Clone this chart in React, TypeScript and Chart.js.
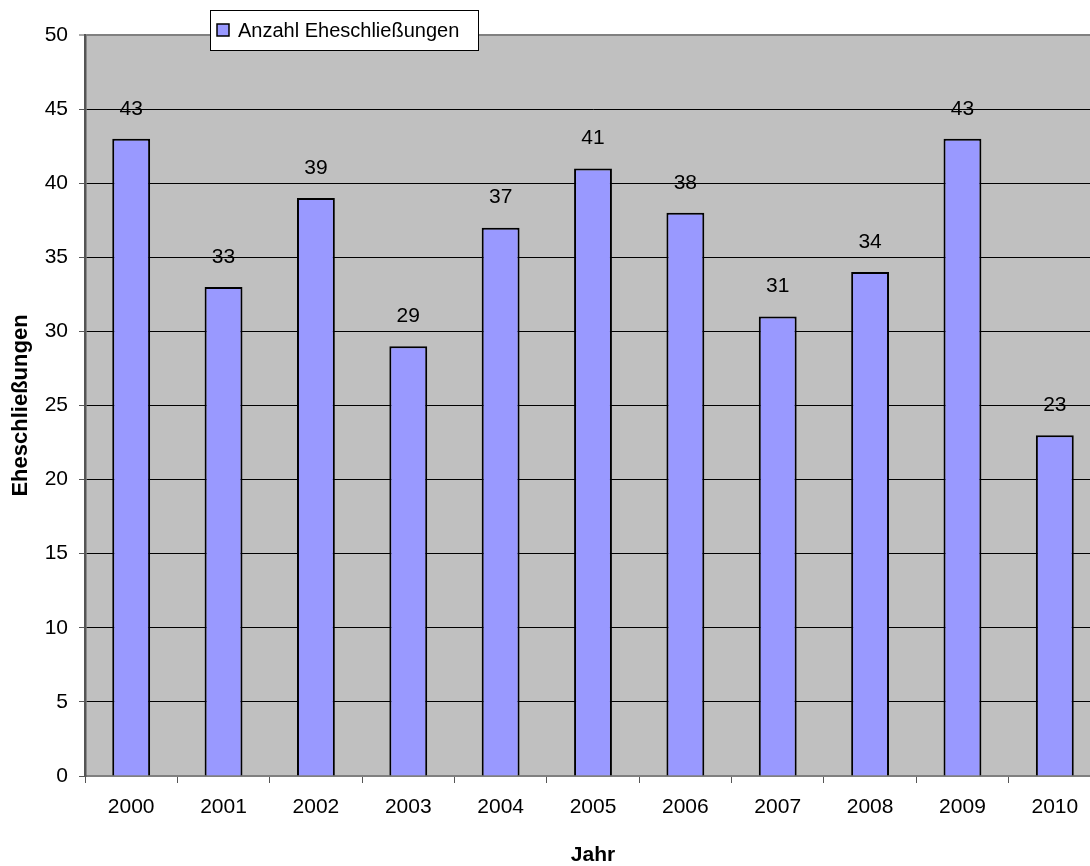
import React, { useEffect, useRef } from "react";
import { Chart, registerables } from "chart.js";

Chart.register(...registerables);

const years = ["2000", "2001", "2002", "2003", "2004", "2005", "2006", "2007", "2008", "2009", "2010"];
const marriages = [43, 33, 39, 29, 37, 41, 38, 31, 34, 43, 23];
const seriesLabel = "Anzahl Eheschließungen";
const yTitle = "Eheschließungen";
const xTitle = "Jahr";

const FONT = "'Liberation Sans', Arial, sans-serif";

const bgPlugin = {
  id: "plotBg",
  beforeDraw(chart: any) {
    const { ctx, chartArea } = chart;
    if (!chartArea) return;
    ctx.save();
    ctx.fillStyle = "#C0C0C0";
    ctx.fillRect(chartArea.left, chartArea.top, chartArea.right - chartArea.left, chartArea.bottom - chartArea.top);
    ctx.restore();
  },
};

const valueLabelPlugin = {
  id: "valueLabels",
  afterDatasetsDraw(chart: any) {
    const { ctx } = chart;
    const meta = chart.getDatasetMeta(0);
    const data = chart.data.datasets[0].data;
    ctx.save();
    ctx.font = `21px ${FONT}`;
    ctx.fillStyle = "#000";
    ctx.textAlign = "center";
    ctx.textBaseline = "middle";
    meta.data.forEach((bar: any, i: number) => {
      ctx.fillText(String(data[i]), bar.x, bar.y - 30);
    });
    ctx.restore();
  },
};

const legendPlugin = {
  id: "boxLegend",
  afterDraw(chart: any) {
    const { ctx } = chart;
    const ds = chart.data.datasets[0];
    ctx.save();
    ctx.fillStyle = "#fff";
    ctx.fillRect(210, 10, 268, 40);
    ctx.strokeStyle = "#000";
    ctx.lineWidth = 1;
    ctx.strokeRect(210.5, 10.5, 268, 40);
    ctx.fillStyle = ds.backgroundColor;
    ctx.fillRect(217, 24, 12, 12);
    ctx.lineWidth = 1.5;
    ctx.strokeRect(217, 24, 12, 12);
    ctx.font = `20px ${FONT}`;
    ctx.fillStyle = "#000";
    ctx.textAlign = "left";
    ctx.textBaseline = "middle";
    ctx.fillText(ds.label, 238, 31);
    ctx.restore();
  },
};

export default function App() {
  const canvasRef = useRef<HTMLCanvasElement | null>(null);

  useEffect(() => {
    const canvas = canvasRef.current;
    if (!canvas) return;
    const chart = new Chart(canvas, {
      type: "bar",
      data: {
        labels: years,
        datasets: [
          {
            label: seriesLabel,
            data: marriages,
            backgroundColor: "#9999FF",
            borderColor: "#000000",
            borderWidth: 2,
            barPercentage: 0.41,
            categoryPercentage: 1,
          },
        ],
      },
      options: {
        responsive: false,
        animation: false,
        devicePixelRatio: 1,
        layout: { padding: { top: 35, right: 0, left: 0, bottom: 0 } },
        plugins: {
          legend: { display: false },
          tooltip: { enabled: false },
          title: { display: false },
        },
        scales: {
          x: {
            afterFit(scale: any) {
              scale.height = 90;
            },
            grid: {
              offset: true,
              drawOnChartArea: false,
              drawTicks: true,
              tickLength: 7,
              tickColor: "#555",
              tickWidth: 1,
            },
            border: { display: true, color: "#808080", width: 2 },
            ticks: {
              color: "#000",
              font: { family: FONT, size: 21 },
              maxRotation: 0,
              autoSkip: false,
              padding: 12,
            },
            title: {
              display: true,
              text: xTitle,
              color: "#000",
              font: { family: FONT, size: 21, weight: "bold" },
              padding: { top: 0, bottom: -2 },
            },
          },
          y: {
            min: 0,
            max: 50,
            afterFit(scale: any) {
              scale.width = 85;
            },
            ticks: {
              stepSize: 5,
              color: "#000",
              font: { family: FONT, size: 21 },
              padding: 11,
            },
            grid: {
              color: (c: any) => (c.tick && c.tick.value === 50 ? "#808080" : "#000000"),
              lineWidth: (c: any) => (c.tick && c.tick.value === 50 ? 2 : 1),
              tickLength: 6,
              tickColor: "#555",
              tickWidth: 1,
            },
            border: { display: true, color: "#555", width: 2.5 },
            title: {
              display: true,
              text: yTitle,
              color: "#000",
              font: { family: FONT, size: 22, weight: "bold" },
              padding: { top: 8, bottom: 0 },
            },
          },
        },
      },
      plugins: [bgPlugin, valueLabelPlugin, legendPlugin],
    });
    return () => chart.destroy();
  }, []);

  return (
    <div style={{ position: "fixed", left: 0, top: 0, width: 1090, height: 866, overflow: "hidden", background: "#fff" }}>
      <canvas ref={canvasRef} width={1101} height={866} style={{ display: "block", width: 1101, height: 866 }} />
    </div>
  );
}
